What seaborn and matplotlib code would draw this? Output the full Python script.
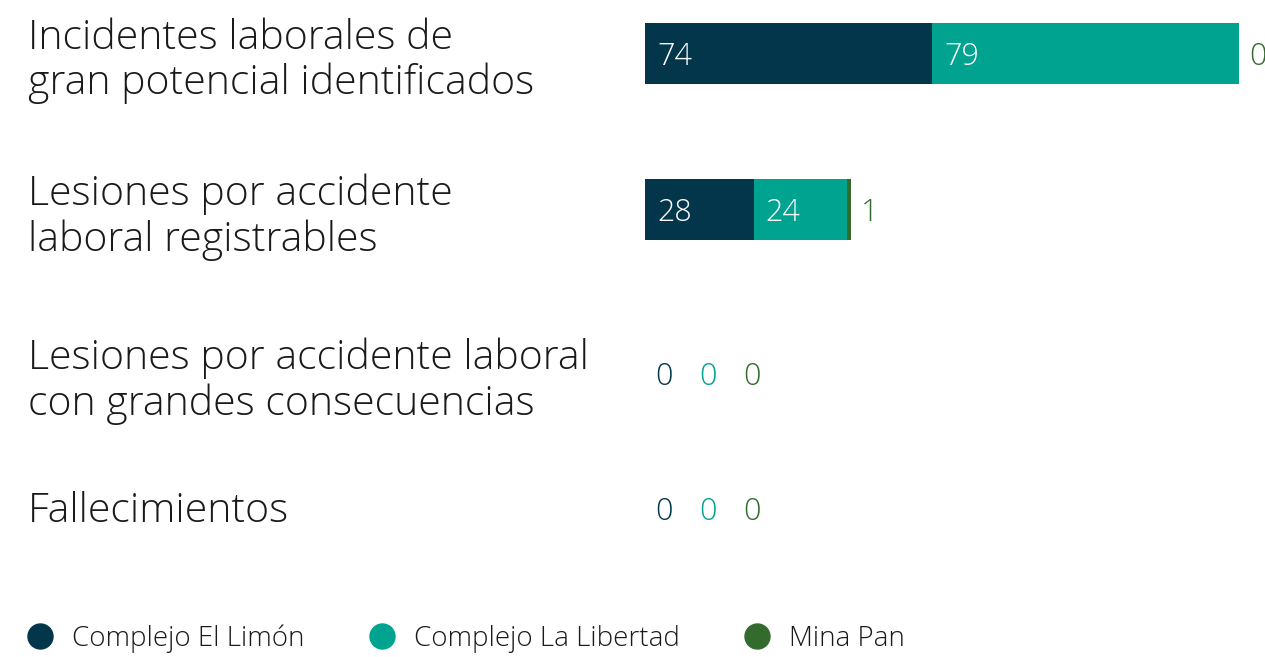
import matplotlib
matplotlib.use("Agg")
import matplotlib.pyplot as plt
import seaborn as sns
import pandas as pd
from matplotlib.transforms import blended_transform_factory, offset_copy
from matplotlib.lines import Line2D

# ---- data -------------------------------------------------------------
categories = [
    "Incidentes laborales de\ngran potencial identificados",
    "Lesiones por accidente\nlaboral registrables",
    "Lesiones por accidente laboral\ncon grandes consecuencias",
    "Fallecimientos",
]
series = ["Complejo El Limón", "Complejo La Libertad", "Mina Pan"]
el_limon = [74, 28, 0, 0]
la_libertad = [79, 24, 0, 0]
mina_pan = [0, 1, 0, 0]

# ---- style ------------------------------------------------------------
colors = ["#03364A", "#00A38F", "#336B2F"]
row_y = [53, 209, 373, 508]          # row centres, pixel units from top
legend_x = [40, 382, 757]            # legend marker centres, pixels
W, H = 1265, 657
AX_LEFT, AX_W, AX_H = 645, 620, 560
X_MAX = 159.7
FONT = ["Open Sans", "DejaVu Sans"]

sns.set_theme(style="white")
plt.rcParams["font.family"] = FONT
plt.rcParams["font.weight"] = "light"

fig = plt.figure(figsize=(W / 100, H / 100), dpi=100)
ax = fig.add_axes([AX_LEFT / W, (H - AX_H) / H, AX_W / W, AX_H / H])

df = pd.DataFrame({"row": row_y, series[0]: el_limon,
                   series[1]: la_libertad, series[2]: mina_pan})
cum = df[series].cumsum(axis=1)

# stacked bars: draw cumulative totals from the back to the front
for name, color in zip(series[::-1], colors[::-1]):
    sns.barplot(x=cum[name].values, y=df["row"].values, orient="h",
                native_scale=True, width=61 / 135, color=color,
                saturation=1, linewidth=0, ax=ax)

ax.set_xlim(0, X_MAX)
ax.set_ylim(AX_H, 0)
ax.set_axis_off()

# ---- value labels -----------------------------------------------------
for i, y in enumerate(row_y):
    vals = [df[s].iloc[i] for s in series]
    start = 0
    outside = []
    for j, v in enumerate(vals):
        if v >= 5:
            ax.annotate(f"{v}", (start, y), xytext=(12, -4),
                        textcoords="offset pixels", ha="left", va="center",
                        color="white", fontsize=22, fontweight="light")
        else:
            outside.append(j)
        start += v
    for k, j in enumerate(outside):
        ax.annotate(f"{vals[j]}", (start, y), xytext=(10 + 44 * k, -4),
                    textcoords="offset pixels", ha="left", va="center",
                    color=colors[j], fontsize=22, fontweight="light")

# ---- category labels --------------------------------------------------
trans = blended_transform_factory(fig.transFigure, ax.transData)
for cat, y in zip(categories, row_y):
    drop = 8 if "\n" in cat else 4
    t = offset_copy(trans, fig=fig, x=0, y=-drop, units="dots")
    ax.text(28 / W, y, cat, transform=t, ha="left", va="center",
            fontsize=29.5, fontweight="light", color="#1a1a1a",
            linespacing=1.13)

# ---- legend -----------------------------------------------------------
leg_y = 1 - 636 / H
for name, color, cx in zip(series, colors, legend_x):
    fig.add_artist(Line2D([cx / W], [leg_y], marker="o", linestyle="none",
                          markersize=18, markerfacecolor=color,
                          markeredgecolor=color, transform=fig.transFigure))
    fig.text((cx + 32) / W, leg_y - 3 / H, name, ha="left", va="center",
             fontsize=20, fontweight="light", color="#1a1a1a")

fig.savefig("out.png", dpi=100, facecolor="white")
